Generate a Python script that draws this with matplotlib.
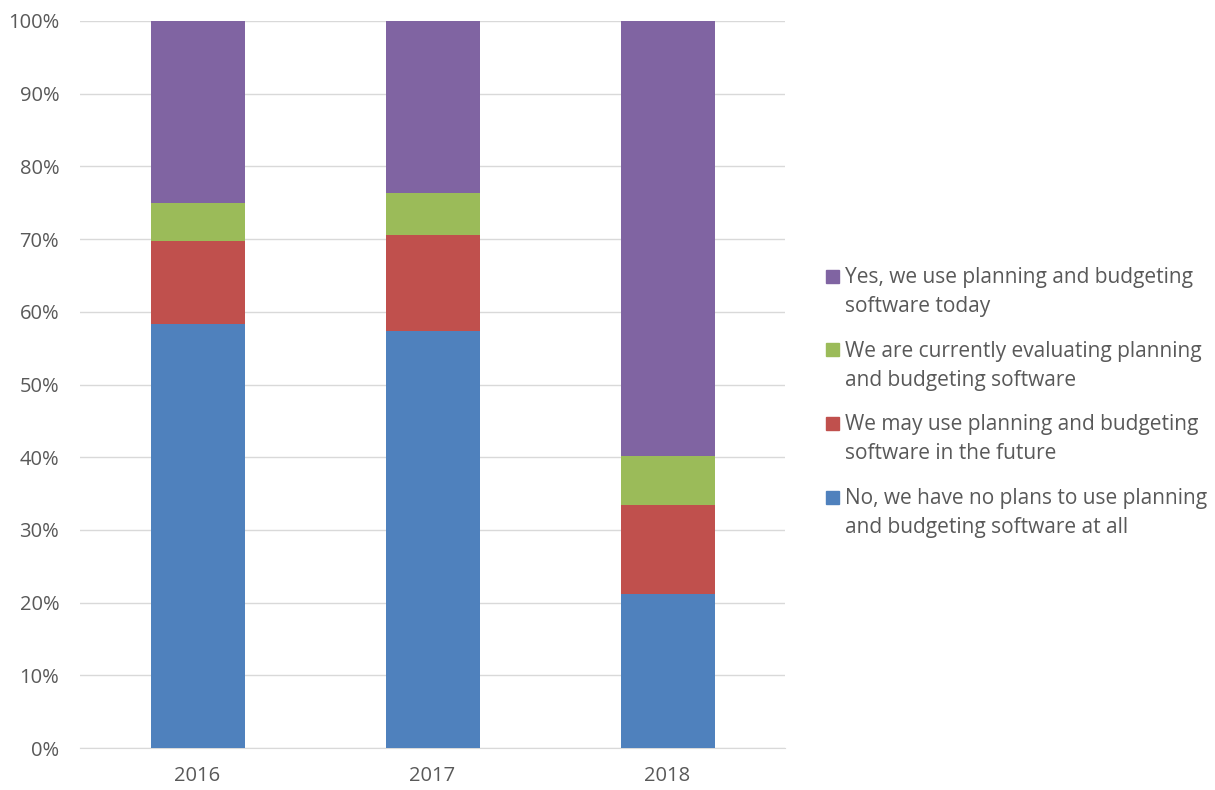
import matplotlib.pyplot as plt
import numpy as np
from matplotlib.patches import Rectangle
from matplotlib.ticker import FuncFormatter

plt.rcParams["font.family"] = ["Open Sans", "DejaVu Sans"]

years = ["2016", "2017", "2018"]
no_plans = [58.3, 57.4, 21.2]
may_use = [11.4, 13.2, 12.2]
evaluating = [5.3, 5.7, 6.8]
use_today = [25.0, 23.7, 59.8]

series = [
    ("No, we have no plans to use planning\nand budgeting software at all", no_plans, "#4F81BD"),
    ("We may use planning and budgeting\nsoftware in the future", may_use, "#C0504D"),
    ("We are currently evaluating planning\nand budgeting software", evaluating, "#9BBB59"),
    ("Yes, we use planning and budgeting\nsoftware today", use_today, "#8064A2"),
]

TEXT = "#595959"
W, H = 1215, 790
fig = plt.figure(figsize=(W / 100, H / 100), dpi=100)
ax = fig.add_axes([80 / W, 1 - 748 / H, 705 / W, 727 / H])

x = np.arange(len(years))
bottom = np.zeros(len(years))
for label, vals, color in series:
    ax.bar(x, vals, width=0.4, bottom=bottom, color=color, zorder=3)
    bottom += np.array(vals)

ax.set_xlim(-0.5, len(years) - 0.5)
ax.set_ylim(0, 100)
ax.set_yticks(np.arange(0, 101, 10))
ax.yaxis.set_major_formatter(FuncFormatter(lambda v, p: f"{v:.0f}%"))
ax.set_xticks(x, years)
ax.grid(axis="y", color="#D9D9D9", lw=1, zorder=0)
for s in ("top", "right", "left"):
    ax.spines[s].set_visible(False)
ax.spines["bottom"].set_color("#D9D9D9")
ax.tick_params(length=0, labelsize=14.5, colors=TEXT)
ax.tick_params(axis="y", pad=15)
ax.tick_params(axis="x", pad=13)

# legend, top entry first, square aligned with the first text line
y0 = 276
for i, (label, vals, color) in enumerate(reversed(series)):
    yc = y0 + i * 73.7
    fig.patches.append(Rectangle((826 / W, 1 - (yc + 6.5) / H), 13 / W, 13 / H,
                                 transform=fig.transFigure, color=color))
    fig.text(845 / W, 1 - (yc - 9) / H, label, ha="left", va="top",
             fontsize=15, color=TEXT, linespacing=1.5)

fig.savefig("out.png", dpi=100)
